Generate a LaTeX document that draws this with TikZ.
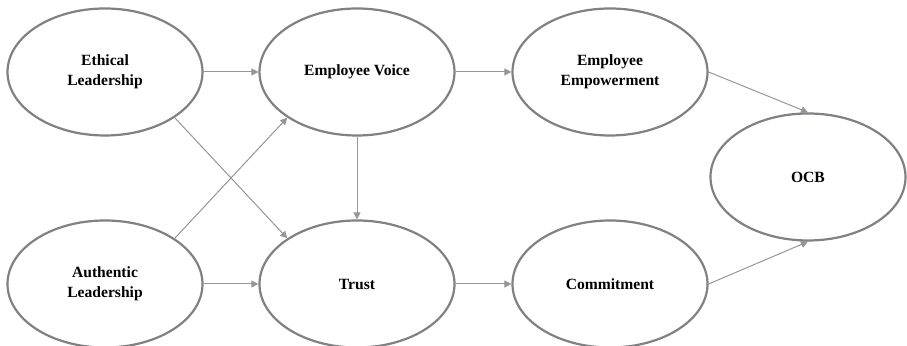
\documentclass[tikz,border=0pt]{standalone}
\usepackage{fontspec}
\setmainfont{Liberation Serif}
\usetikzlibrary{shapes.geometric,arrows.meta}
\definecolor{rim}{RGB}{128,128,133}
\definecolor{wire}{RGB}{150,150,153}

\begin{document}
\begin{tikzpicture}[x=0.5pt,y=0.5pt,
   every node/.style={ellipse,draw=rim,line width=1.1pt,
     minimum width=97.5pt,minimum height=63.5pt,align=center,
     font=\fontsize{7.8}{9.8}\selectfont\bfseries},
   effect/.style={draw=wire,line width=0.5pt,
     -{Triangle[length=3.5pt,width=3.5pt]}}]

\useasboundingbox (0,0) rectangle (907,346);

\node (eth)    at (105,274) {Ethical\\Leadership};
\node (voice)  at (357,274) {Employee Voice};
\node (empow)  at (610,274) {Employee\\Empowerment};
\node (ocb)    at (808,169) {OCB};
\node (auth)   at (105,62)  {Authentic\\Leadership};
\node (trust)  at (357,62)  {Trust};
\node (commit) at (610,62)  {Commitment};

\draw[effect] (eth) -- (voice);
\draw[effect] (voice) -- (empow);
\draw[effect] (eth.south east) -- (trust.north west);
\draw[effect] (auth.north east) -- (voice.south west);
\draw[effect] (voice) -- (trust);
\draw[effect] (auth) -- (trust);
\draw[effect] (trust) -- (commit);
\draw[effect] (empow.east) -- (ocb.north);
\draw[effect] (commit.east) -- (ocb.south);

\end{tikzpicture}
\end{document}
